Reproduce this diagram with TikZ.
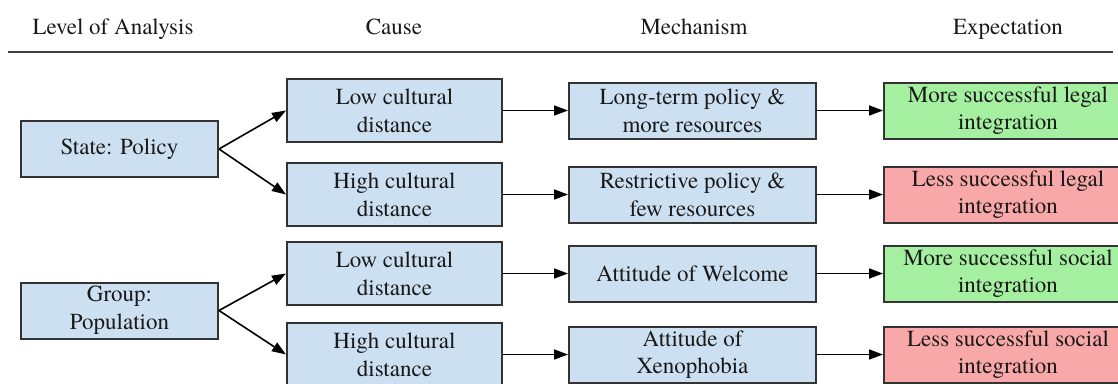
\documentclass[tikz,border=0pt]{standalone}
\usepackage{fontspec}
\setmainfont{texgyretermes-regular.otf}
\usetikzlibrary{arrows.meta}
\definecolor{causeblue}{HTML}{CCE0F2}
\definecolor{goodgreen}{HTML}{A4F0A0}
\definecolor{badred}{HTML}{F8A8A8}
\definecolor{edgegray}{HTML}{333333}
\begin{document}
\begin{tikzpicture}[
            x = 1pt, y = -1pt,
            every node/.style = {font = \fontsize{23}{27.7}\selectfont, text = black!90, align = center, inner sep = 0pt},
            head/.style = {anchor = base},
            box/.style = {draw = edgegray, line width = 2pt, minimum height = 56pt},
            levelbox/.style = {box, fill = causeblue, minimum width = 197pt},
            causebox/.style = {box, fill = causeblue, minimum width = 215pt, minimum height = 63pt},
            mechbox/.style = {box, fill = causeblue, minimum width = 247pt},
            expbox/.style = {box, minimum width = 248pt},
            link/.style = {draw = black, line width = 1.6pt, -{Triangle[length = 14pt, width = 10pt]}}]
            \clip (0,0) rectangle (1118,383);
            % header
            \node[head] (hlevel) at (113,34) {Level of Analysis};
            \node[head] (hcause) at (394,34) {Cause};
            \node[head] (hmech) at (694,34) {Mechanism};
            \node[head] (hexp) at (1008,34) {Expectation};
            \draw[draw = black!75, line width = 2.5pt] (8,52) -- (1113,52);
            % level of analysis
            \node[levelbox] (state) at (119.5,149) {State: Policy};
            \node[levelbox] (group) at (119.5,310.5) {Group:\\Population};
            % cause
            \node[causebox] (lowstate) at (394.5,110.5) {Low cultural\\distance};
            \node[causebox] (highstate) at (394.5,194.5) {High cultural\\distance};
            \node[causebox] (lowgroup) at (394.5,273.5) {Low cultural\\distance};
            \node[causebox] (highgroup) at (394.5,354.5) {High cultural\\distance};
            % mechanism
            \node[mechbox] (longterm) at (692.5,110.5) {Long-term policy \&\\more resources};
            \node[mechbox] (restrictive) at (692.5,194.5) {Restrictive policy \&\\few resources};
            \node[mechbox] (welcome) at (692.5,273.5) {Attitude of Welcome};
            \node[mechbox] (xenophobia) at (692.5,354.5) {Attitude of\\Xenophobia};
            % expectation
            \node[expbox, fill = goodgreen] (morelegal) at (1008,110.5) {More successful legal\\integration};
            \node[expbox, fill = badred] (lesslegal) at (1008,194.5) {Less successful legal\\integration};
            \node[expbox, fill = goodgreen] (moresocial) at (1008,273.5) {More successful social\\integration};
            \node[expbox, fill = badred] (lesssocial) at (1008,354.5) {Less successful social\\integration};
            % connectors
            \draw[link] (state.east) -- (lowstate.west);
            \draw[link] (state.east) -- (highstate.west);
            \draw[link] (group.east) -- (lowgroup.west);
            \draw[link] (group.east) -- (highgroup.west);
            \draw[link] (lowstate) -- (longterm);
            \draw[link] (highstate) -- (restrictive);
            \draw[link] (lowgroup) -- (welcome);
            \draw[link] (highgroup) -- (xenophobia);
            \draw[link] (longterm) -- (morelegal);
            \draw[link] (restrictive) -- (lesslegal);
            \draw[link] (welcome) -- (moresocial);
            \draw[link] (xenophobia) -- (lesssocial);
        \end{tikzpicture}
\end{document}
